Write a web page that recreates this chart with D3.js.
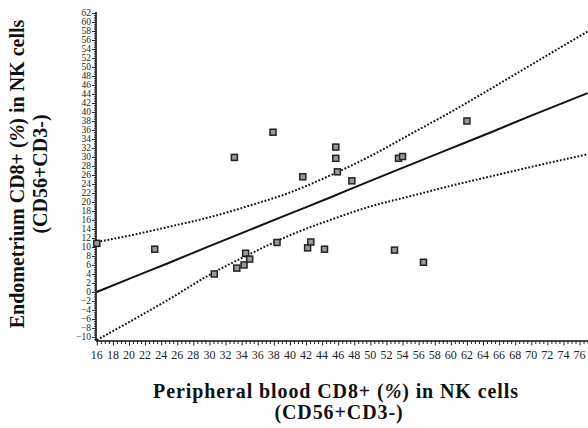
<!DOCTYPE html>
<html>
<head>
<meta charset="utf-8">
<script src="https://cdn.jsdelivr.net/npm/d3@7"></script>
<style>
  body { margin: 0; background: #fff; }
  svg { display: block; }
</style>
</head>
<body>
<svg id="chart" width="588" height="428"></svg>
<script>
// scatter points.
var bloodCD8 = [16.0, 23.2, 30.6, 33.1, 33.4, 34.3, 34.5, 35.0, 37.9, 38.4, 41.6, 42.2,
  42.6, 44.3, 45.7, 45.7, 45.9, 47.7, 53.0, 53.5, 54.0, 56.6, 62.0];
var endoCD8 = [10.8, 9.5, 4.0, 29.9, 5.3, 6.0, 8.6, 7.3, 35.5, 11.0, 25.6, 9.8,
  11.1, 9.5, 32.2, 29.7, 26.7, 24.7, 9.3, 29.7, 30.1, 6.6, 38.0];

// regression line and 95% band, read at these x positions.
var bandX = [16, 20, 25, 30, 35, 40, 45, 50, 55, 60, 65, 70, 77];
var fitLine = [0, 2.9, 6.5, 10.2, 13.8, 17.4, 21.0, 24.7, 28.3, 31.9, 35.5, 39.2, 44.2];
var upperBand = [11.1, 12.5, 14.5, 16.6, 19.2, 22.1, 25.9, 30.2, 35.1, 40.0, 45.2, 50.5, 57.9];
var lowerBand = [-10.7, -6.7, -1.6, 3.8, 8.4, 12.6, 16.0, 19.0, 21.3, 23.6, 25.7, 27.8, 30.6];

// tick labels.
var xTicks = d3.range(16, 77, 2);
var yTicks = d3.range(-10, 63, 2);

var serif = "'Liberation Serif', 'Times New Roman', Times, serif";

var svg = d3.select("#chart");
var x = d3.scaleLinear().domain([15.9, 77.05]).range([96, 588]);
var y = d3.scaleLinear().domain([-10.9, 62]).range([341, 13]);

// clip everything inside the axes.
svg.append("clipPath").attr("id", "plot-clip")
  .append("rect").attr("x", 96).attr("y", 10).attr("width", 492).attr("height", 332);

// y axis.
var yAxis = svg.append("g").attr("transform", "translate(96,0)");
yAxis.call(d3.axisLeft(y).tickValues(d3.range(-10.5, 62.1, 0.5)).tickSize(2).tickFormat(""));
yAxis.call(function(g) {
  g.selectAll(".tick").filter(function(d) { return d % 2 === 0; })
    .select("line").attr("x2", -4);
});
yAxis.selectAll(".tick line").attr("stroke", "#222");
yAxis.select(".domain").attr("stroke", "#111").attr("stroke-width", 1.6)
  .attr("d", "M0,12V341");
yAxis.selectAll(".ylab").data(yTicks).enter().append("text")
  .attr("class", "ylab")
  .attr("x", -5).attr("y", function(d) { return y(d); })
  .attr("dy", "0.34em")
  .attr("text-anchor", "end")
  .attr("font-family", serif)
  .attr("font-size", 9.5)
  .attr("fill", "#222")
  .text(function(d) { return d < 0 ? "\u2212" + Math.abs(d) : d; });

// x axis.
var xAxis = svg.append("g").attr("transform", "translate(0,341)");
xAxis.call(d3.axisBottom(x).tickValues(d3.range(16, 77.1, 0.5)).tickSize(3).tickFormat(""));
xAxis.call(function(g) {
  g.selectAll(".tick").filter(function(d) { return d % 2 === 0; })
    .select("line").attr("y2", 4.5);
});
xAxis.selectAll(".tick line").attr("stroke", "#222");
xAxis.select(".domain").attr("stroke", "#111").attr("stroke-width", 1.6)
  .attr("d", "M96,0H588");
xAxis.selectAll(".xlab").data(xTicks).enter().append("text")
  .attr("class", "xlab")
  .attr("x", function(d) { return x(d); }).attr("y", 18)
  .attr("text-anchor", "middle")
  .attr("font-family", serif)
  .attr("font-size", 12)
  .attr("fill", "#222")
  .text(function(d) { return d; });

// regression + confidence band.
var plot = svg.append("g").attr("clip-path", "url(#plot-clip)");
var lineOf = function(values) {
  return d3.line()
    .x(function(d, i) { return x(bandX[i]); })
    .y(function(d) { return y(d); })
    .curve(d3.curveMonotoneX)(values);
};
plot.append("path").attr("d", lineOf(fitLine))
  .attr("fill", "none").attr("stroke", "#111").attr("stroke-width", 2);
[upperBand, lowerBand].forEach(function(band) {
  plot.append("path").attr("d", lineOf(band))
    .attr("fill", "none").attr("stroke", "#111").attr("stroke-width", 2)
    .attr("stroke-dasharray", "1.8,1.8");
});

// points.
var points = d3.zip(bloodCD8, endoCD8);
svg.append("g").selectAll("rect").data(points).enter().append("rect")
  .attr("x", function(d) { return x(d[0]) - 3; })
  .attr("y", function(d) { return y(d[1]) - 3; })
  .attr("width", 6).attr("height", 6)
  .attr("fill", "#999").attr("stroke", "#222").attr("stroke-width", 1.5);

// axis titles.
var titleText = function(sel, before, after) {
  sel.append("tspan").text(before);
  sel.append("tspan").attr("font-style", "italic").text("%");
  sel.append("tspan").text(after);
};
var xTitle = svg.append("text")
  .attr("font-family", serif).attr("font-weight", "bold").attr("fill", "#111")
  .attr("text-anchor", "middle").attr("font-size", 20).attr("letter-spacing", 0.9);
titleText(xTitle.append("tspan").attr("x", 336).attr("y", 398), "Peripheral blood CD8+ (", ") in NK cells");
xTitle.append("tspan").attr("x", 339).attr("y", 419).text("(CD56+CD3-)");

var yTitle = svg.append("text")
  .attr("font-family", serif).attr("font-weight", "bold").attr("fill", "#111")
  .attr("text-anchor", "middle").attr("font-size", 20)
  .attr("transform", "translate(0,174) rotate(-90)");
titleText(yTitle.append("tspan").attr("x", 0).attr("y", 24), "Endometrium CD8+ (", ") in NK cells");
yTitle.append("tspan").attr("x", 0).attr("y", 47).text("(CD56+CD3-)");
</script>
</body>
</html>
